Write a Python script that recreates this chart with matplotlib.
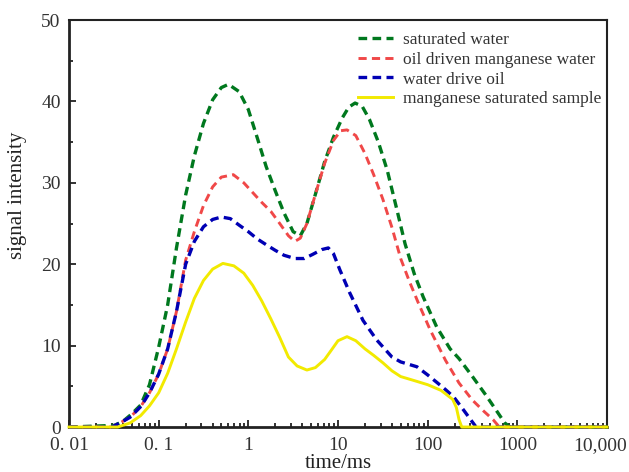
import matplotlib
matplotlib.use('Agg')
import matplotlib.pyplot as plt
from matplotlib.ticker import FixedLocator, FixedFormatter, LogLocator, NullFormatter, MultipleLocator
from matplotlib.transforms import ScaledTranslation

plt.rcParams['font.family'] = ['Liberation Serif', 'DejaVu Serif']

# T2 relaxation spectra (time in ms, signal intensity)
x_sat = [0.01, 0.032, 0.04, 0.05, 0.063, 0.079, 0.1, 0.126, 0.158, 0.2, 0.25, 0.316, 0.4,
         0.5, 0.6, 0.79, 1.0, 1.26, 1.58, 2.0, 2.5, 3.16, 3.8, 4.5, 5.6, 7.1, 8.9, 11.2,
         13.2, 15.5, 18.6, 22.4, 28.2, 35.5, 44.7, 56, 71, 89, 126, 178, 224, 316, 447,
         603, 724, 830, 10000]
y_sat = [0, 0.2, 0.7, 1.6, 2.7, 5.2, 9.8, 15, 22, 28.5, 33.3, 37.3, 40.2,
         41.7, 42.1, 41.2, 39, 35.5, 32, 29, 26.3, 24, 23.5, 25, 28.6, 32.6, 35.6, 38,
         39.3, 39.8, 39.4, 37.8, 35, 31.5, 27, 22.5, 18.8, 16, 12.3, 9.6, 8.4, 6.2, 3.9,
         1.8, 0.5, 0, 0]

x_oil = [0.01, 0.03, 0.037, 0.048, 0.063, 0.079, 0.1, 0.126, 0.158, 0.2, 0.25, 0.316, 0.4,
         0.5, 0.68, 0.89, 1.12, 1.41, 1.78, 2.24, 2.8, 3.3, 3.8, 4.5, 5.6, 7.1, 8.9, 10.7,
         12.6, 15.8, 20, 25, 31.6, 40, 50, 63, 79, 107, 158, 224, 316, 417, 537, 630, 10000]
y_oil = [0, 0, 0.5, 1.2, 2.5, 4.2, 6.5, 9.6, 14.2, 20.5, 24, 27.2, 29.5,
         30.7, 31, 30, 28.8, 27.6, 26.5, 25, 23.5, 22.8, 23.2, 25, 28.6, 32.4, 35.2, 36.4,
         36.5, 35.8, 33.6, 31, 28, 24.5, 20.7, 17.8, 15.2, 11.9, 8.2, 5.4, 3.3, 2.0, 0.9, 0, 0]

x_wdo = [0.01, 0.03, 0.037, 0.048, 0.063, 0.079, 0.1, 0.126, 0.158, 0.2, 0.25, 0.316, 0.4,
         0.5, 0.63, 0.79, 1.0, 1.26, 1.58, 2.0, 2.5, 3.3, 4.2, 5.2, 6.6, 7.8, 8.9, 10.5,
         13.5, 19, 27, 40, 50, 76, 100, 126, 158, 195, 251, 316, 347, 10000]
y_wdo = [0, 0, 0.5, 1.2, 2.5, 4.2, 6.5, 9.6, 14.2, 20, 22.8, 24.6, 25.5,
         25.8, 25.6, 24.8, 24, 23.1, 22.4, 21.7, 21.1, 20.7, 20.7, 21.2, 21.8, 22, 21.3, 19.3,
         16.5, 13.1, 10.7, 8.6, 8, 7.4, 6.4, 5.5, 4.6, 3.7, 2.1, 0.6, 0, 0]

x_mn = [0.01, 0.035, 0.048, 0.063, 0.079, 0.1, 0.126, 0.158, 0.2, 0.25, 0.316, 0.4, 0.52,
        0.69, 0.89, 1.12, 1.41, 1.78, 2.24, 2.8, 3.5, 4.5, 5.6, 7.1, 8.5, 10, 12.6, 15.8,
        20, 25, 31.6, 40, 50, 71, 100, 141, 190, 209, 224, 240, 10000]
y_mn = [0, 0, 0.5, 1.4, 2.6, 4.2, 6.6, 9.6, 12.9, 15.8, 18, 19.4, 20.1,
        19.8, 18.9, 17.4, 15.5, 13.3, 11, 8.6, 7.5, 7.0, 7.3, 8.3, 9.5, 10.6, 11.1, 10.6,
        9.6, 8.8, 7.9, 6.9, 6.2, 5.7, 5.2, 4.5, 3.4, 2.4, 0.9, 0, 0]

labels = ['saturated water', 'oil driven manganese water', 'water drive oil',
          'manganese saturated sample']
xtick_vals = [0.01, 0.1, 1, 10, 100, 1000, 10000]
xtick_text = ['0. 01', '0. 1', '1', '10', '100', '1000', '10,000']

fig = plt.figure(figsize=(6.29, 4.72), dpi=100)
ax = fig.add_axes([0.1097, 0.0953, 0.8553, 0.8623])

ax.plot(x_sat, y_sat, color='#00781E', lw=2.4, dashes=(2.6, 1.6), label=labels[0],
        clip_on=False, zorder=3)
ax.plot(x_oil, y_oil, color='#F04848', lw=2.1, dashes=(2.8, 1.8), label=labels[1],
        clip_on=False, zorder=3)
ax.plot(x_wdo, y_wdo, color='#0000B4', lw=2.4, dashes=(2.6, 1.6), label=labels[2],
        clip_on=False, zorder=3)
ax.plot(x_mn, y_mn, color='#F2EA00', lw=2.1, label=labels[3], clip_on=False, zorder=4)

ax.set_xscale('log')
ax.set_xlim(0.01, 10000)
ax.set_ylim(0, 50)
ax.xaxis.set_major_locator(FixedLocator(xtick_vals))
ax.xaxis.set_major_formatter(FixedFormatter(xtick_text))
ax.xaxis.set_minor_locator(LogLocator(base=10, subs=range(2, 10)))
ax.xaxis.set_minor_formatter(NullFormatter())
ax.yaxis.set_major_locator(MultipleLocator(10))
ax.yaxis.set_minor_locator(MultipleLocator(5))

ax.tick_params(which='both', direction='in', top=False, right=False,
               labelsize=14, labelcolor='#333333', color='#222222', width=1.3)
ax.tick_params(which='major', length=5)
ax.tick_params(axis='x', which='major', pad=7.5)
ax.tick_params(axis='y', which='major', pad=6)
ax.tick_params(which='minor', length=3)

for side in ['left', 'bottom']:
    ax.spines[side].set_linewidth(2.0)
    ax.spines[side].set_color('#222222')
for side in ['top', 'right']:
    ax.spines[side].set_linewidth(1.5)
    ax.spines[side].set_color('#222222')

ax.set_xlabel('time/ms', fontsize=15, color='#222222', labelpad=0)
ax.set_ylabel('signal intensity', fontsize=15, color='#222222')
ax.yaxis.set_label_coords(-0.078, 0.57)

ax.legend(loc='upper right', bbox_to_anchor=(1.013, 1.0), frameon=False, fontsize=12.5,
          handlelength=2.0, handletextpad=0.6, labelspacing=0.2, borderaxespad=0.3,
          labelcolor='#333333')

# pull the last tick label back inside the figure edge
last = ax.get_xticklabels()[-1]
last.set_transform(last.get_transform() + ScaledTranslation(-0.07, 0, fig.dpi_scale_trans))

fig.savefig('out.png', dpi=100, facecolor='white')
